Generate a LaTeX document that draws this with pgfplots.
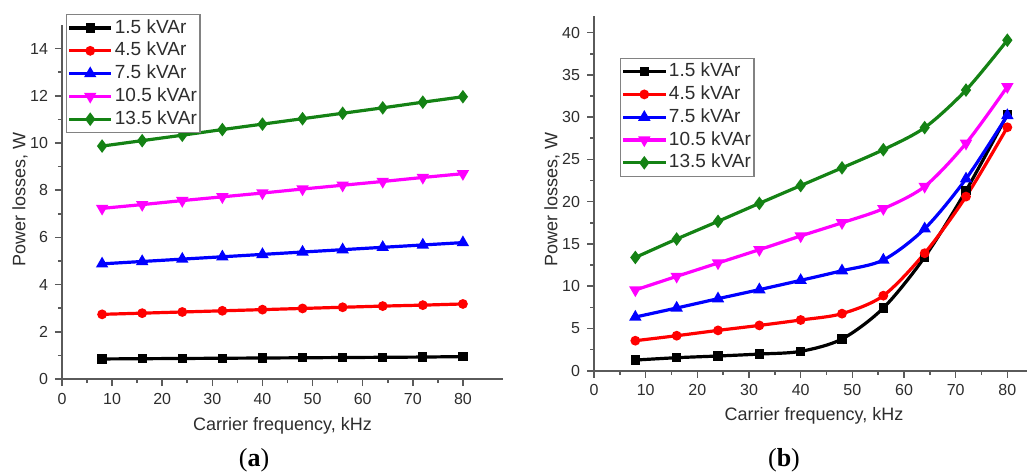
\documentclass[border=0pt]{standalone}
\usepackage{fontspec}
\setmainfont{Liberation Sans}
\newfontfamily\capfont{Liberation Serif}
\usepackage{pgfplots}
\pgfplotsset{compat=1.18}
\definecolor{axc}{RGB}{90,90,90}
\definecolor{txc}{RGB}{45,45,45}
\definecolor{lgc}{RGB}{130,130,130}
\definecolor{mygreen}{RGB}{20,130,20}
\definecolor{myred}{RGB}{255,0,0}
\definecolor{myblue}{RGB}{0,0,255}
\definecolor{mymag}{RGB}{255,0,255}
\pgfplotsset{
  common/.style={
    scale only axis, anchor=south west,
    axis x line*=bottom, axis y line*=left,
    axis line style={-, line width=0.9pt, color=axc},
    xtick={0,10,...,80}, minor x tick num=1, minor y tick num=1,
    tick align=outside, major tick length=3.5pt, minor tick length=2pt,
    every tick/.style={line width=0.8pt, color=axc},
    ticklabel style={font=\fontsize{8}{9}\selectfont, text=txc},
    /pgf/number format/assume math mode=true,
    label style={font=\fontsize{9}{10}\selectfont, text=txc},
    xlabel={Carrier frequency, kHz}, ylabel={Power losses, W},
    legend cell align=left,
    legend style={draw=lgc, line width=0.6pt, inner xsep=0.5pt, inner ysep=1pt,
      font=\fontsize{9.5}{11}\selectfont, text=txc,
      nodes={text height=7pt, text depth=2pt, inner ysep=1.2pt, inner xsep=1pt}},
    legend image code/.code={\draw[mark repeat=2,mark phase=2] plot coordinates {(0cm,0cm)(0.37cm,0cm)(0.74cm,0cm)};},
    every axis plot/.append style={line width=1.6pt},
  },
  s1/.style={black, mark=square*, mark size=1.5pt, mark options={solid}},
  s2/.style={myred, mark=*, mark size=1.6pt},
  s3/.style={myblue, mark=triangle*, mark size=2pt},
  s4/.style={mymag, mark=triangle*, mark size=2pt, mark options={rotate=180}},
  s5/.style={mygreen, mark=diamond*, mark size=2.1pt},
}
\begin{document}
\begin{tikzpicture}
\useasboundingbox (0,0) rectangle (513.5pt,-236pt);
\begin{axis}[common,
  at={(31pt,-189.5pt)}, width=220.5pt, height=177pt,
  xmin=0, xmax=88, ymin=0, ymax=15, ytick={0,2,...,14},
  xlabel style={at={(axis description cs:0.5,-0.133)}, anchor=center},
  ylabel style={at={(axis description cs:-0.095,0.508)}, anchor=center},
  legend style={at={(axis description cs:0.009,1.031)}, anchor=north west},
]
\addplot[s1] coordinates {(8,0.85)(16,0.86)(24,0.87)(32,0.88)(40,0.89)(48,0.90)(56,0.91)(64,0.92)(72,0.93)(80,0.95)};
\addplot[s2] coordinates {(8,2.74)(16,2.79)(24,2.84)(32,2.89)(40,2.94)(48,2.99)(56,3.04)(64,3.09)(72,3.13)(80,3.18)};
\addplot[s3] coordinates {(8,4.88)(16,4.98)(24,5.08)(32,5.18)(40,5.28)(48,5.38)(56,5.48)(64,5.58)(72,5.68)(80,5.78)};
\addplot[s4] coordinates {(8,7.23)(16,7.39)(24,7.56)(32,7.72)(40,7.88)(48,8.05)(56,8.21)(64,8.37)(72,8.54)(80,8.70)};
\addplot[s5] coordinates {(8,9.87)(16,10.10)(24,10.33)(32,10.57)(40,10.80)(48,11.03)(56,11.26)(64,11.49)(72,11.73)(80,11.96)};
\legend{1.5 kVAr,4.5 kVAr,7.5 kVAr,10.5 kVAr,13.5 kVAr}
\end{axis}
\begin{axis}[common,
  at={(297pt,-185.35pt)}, width=217pt, height=177.5pt,
  xmin=0, xmax=84, ymin=0, ymax=42, ytick={0,5,...,40},
  xlabel style={at={(axis description cs:0.507,-0.127)}, anchor=center},
  ylabel style={at={(axis description cs:-0.097,0.481)}, anchor=center},
  legend style={at={(axis description cs:0.06,0.882)}, anchor=north west},
]
\addplot[s1, smooth] coordinates {(8,1.26)(16,1.54)(24,1.74)(32,1.97)(40,2.29)(48,3.75)(56,7.42)(64,13.45)(72,21.3)(80,30.3)};
\addplot[s2, smooth] coordinates {(8,3.55)(16,4.14)(24,4.77)(32,5.36)(40,6.0)(48,6.75)(56,8.88)(64,13.9)(72,20.6)(80,28.8)};
\addplot[s3, smooth] coordinates {(8,6.35)(16,7.42)(24,8.52)(32,9.59)(40,10.69)(48,11.83)(56,13.1)(64,16.8)(72,22.7)(80,30.2)};
\addplot[s4, smooth] coordinates {(8,9.55)(16,11.16)(24,12.74)(32,14.32)(40,15.94)(48,17.5)(56,19.17)(64,21.8)(72,26.9)(80,33.6)};
\addplot[s5, smooth] coordinates {(8,13.4)(16,15.58)(24,17.67)(32,19.8)(40,21.9)(48,24.0)(56,26.15)(64,28.76)(72,33.2)(80,39.1)};
\legend{1.5 kVAr,4.5 kVAr,7.5 kVAr,10.5 kVAr,13.5 kVAr}
\end{axis}
\node[font=\capfont\fontsize{13}{15}\selectfont] at (127pt,-230pt) {(\textbf{a})};
\node[font=\capfont\fontsize{13}{15}\selectfont] at (392pt,-230pt) {(\textbf{b})};
\end{tikzpicture}
\end{document}
